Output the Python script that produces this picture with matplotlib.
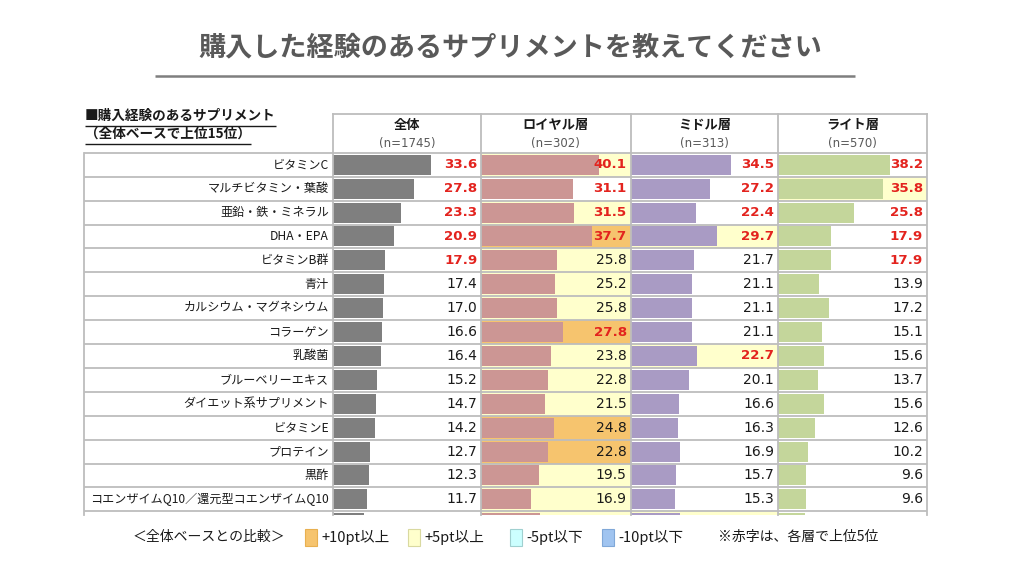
import numpy as np
import matplotlib
matplotlib.use("Agg")
import matplotlib.pyplot as plt
from matplotlib.patches import Rectangle

plt.rcParams['font.family'] = ['Noto Sans CJK JP', 'DejaVu Sans']

# ---------------- data ----------------
title = "購入した経験のあるサプリメントを教えてください"
subtitle1 = "■購入経験のあるサプリメント"
subtitle2 = "（全体ベースで上位15位）"
items = ["ビタミンC", "マルチビタミン・葉酸", "亜鉛・鉄・ミネラル", "DHA・EPA", "ビタミンB群",
         "青汁", "カルシウム・マグネシウム", "コラーゲン", "乳酸菌", "ブルーベリーエキス",
         "ダイエット系サプリメント", "ビタミンE", "プロテイン", "黒酢",
         "コエンザイムQ10／還元型コエンザイムQ10"]
segments = ["全体", "ロイヤル層", "ミドル層", "ライト層"]
sample_sizes = ["(n=1745)", "(n=302)", "(n=313)", "(n=570)"]
total = [33.6, 27.8, 23.3, 20.9, 17.9, 17.4, 17.0, 16.6, 16.4, 15.2, 14.7, 14.2, 12.7, 12.3, 11.7]
royal = [40.1, 31.1, 31.5, 37.7, 25.8, 25.2, 25.8, 27.8, 23.8, 22.8, 21.5, 24.8, 22.8, 19.5, 16.9]
middle = [34.5, 27.2, 22.4, 29.7, 21.7, 21.1, 21.1, 21.1, 22.7, 20.1, 16.6, 16.3, 16.9, 15.7, 15.3]
light = [38.2, 35.8, 25.8, 17.9, 17.9, 13.9, 17.2, 15.1, 15.6, 13.7, 15.6, 12.6, 10.2, 9.6, 9.6]
# 16th row, only a sliver visible at the clipped bottom edge (estimated)
next_row = [10.6, 19.8, 17.0, 9.3]
legend_labels = ["+10pt以上", "+5pt以上", "-5pt以下", "-10pt以下"]
legend_title = "＜全体ベースとの比較＞"
legend_note = "※赤字は、各層で上位5位"

# ---------------- style ----------------
bar_colors = ["#7F7F7F", "#CC9694", "#A99BC4", "#C4D69B"]
diff_colors = ["#F6C46E", "#FFFFCC", "#CCFFFF", "#A0C4F0"]
red = "#E3231E"
grid = "#BDBDBD"

W, H = 1024, 566
fig = plt.figure(figsize=(W / 100, H / 100), dpi=100)
fig.patch.set_facecolor("white")

top = 152.8
rh = 23.9
bottom = 515.0
header_top = 114.0
col_edges = [333.0, 481.0, 630.5, 778.0, 927.0]
label_left = 84.0
XMAX = 50.6
n = len(items)
ybot_units = (bottom - top) / rh

series = [total, royal, middle, light]

for s, vals in enumerate(series):
    x0, x1 = col_edges[s], col_edges[s + 1]
    ax = fig.add_axes([x0 / W, 1 - bottom / H, (x1 - x0) / W, (bottom - top) / H])
    ax.set_xlim(0, XMAX)
    ax.set_ylim(ybot_units, 0)
    ax.axis("off")
    allv = list(vals) + [next_row[s]]
    allt = list(total) + [next_row[0]]
    # background by difference vs 全体
    if s > 0:
        for i, (v, t) in enumerate(zip(allv, allt)):
            d = v - t
            c = None
            if d >= 10:
                c = diff_colors[0]
            elif d >= 5:
                c = diff_colors[1]
            elif d <= -10:
                c = diff_colors[3]
            elif d <= -5:
                c = diff_colors[2]
            if c:
                ax.add_patch(Rectangle((0, i), XMAX, 1, facecolor=c, lw=0, zorder=0))
    ax.barh(np.arange(len(allv)) + 0.5, allv, height=0.84, color=bar_colors[s], zorder=1)
    thr = sorted(vals, reverse=True)[4]
    for i, v in enumerate(vals):
        is_red = v >= thr
        ax.text(XMAX - 1.3, i + 0.5, f"{v:.1f}", ha="right", va="center",
                fontsize=10 if not is_red else 9.6,
                fontweight="bold" if is_red else "normal",
                color=red if is_red else "#1A1A1A", family="DejaVu Sans", zorder=3)

# decoration axes in pixel coordinates
deco = fig.add_axes([0, 0, 1, 1], zorder=5)
deco.set_xlim(0, W)
deco.set_ylim(H, 0)
deco.axis("off")
deco.patch.set_alpha(0)

# title
deco.text(510, 47, title, ha="center", va="center", fontsize=19.5, fontweight="bold", color="#595959")
deco.plot([155, 855], [76, 76], color="#7F7F7F", lw=1.8, solid_capstyle="butt")

# subtitle with underline
t1 = deco.text(85, 116, subtitle1, ha="left", va="center", fontsize=9.8, fontweight="bold", color="#1A1A1A")
t2 = deco.text(85, 134, subtitle2, ha="left", va="center", fontsize=9.8, fontweight="bold", color="#1A1A1A")

# table lines
for k in range(n + 1):
    y = top + k * rh
    deco.plot([label_left, col_edges[-1]], [y, y], color=grid, lw=1.3, solid_capstyle="butt")
deco.plot([col_edges[0], col_edges[-1]], [header_top, header_top], color=grid, lw=1.3)
deco.plot([label_left, label_left], [top, bottom], color=grid, lw=1.3)
for x in col_edges:
    deco.plot([x, x], [header_top, bottom], color=grid, lw=1.3)

# headers
for s in range(4):
    xc = (col_edges[s] + col_edges[s + 1]) / 2
    deco.text(xc, 125, segments[s], ha="center", va="center", fontsize=9.5, fontweight="bold", color="#1A1A1A")
    deco.text(xc, 143.5, sample_sizes[s], ha="center", va="center", fontsize=8.5,
              color="#595959", family=["DejaVu Sans"])

# item labels
for i, lab in enumerate(items):
    deco.text(329, top + (i + 0.5) * rh, lab, ha="right", va="center", fontsize=8.7, color="#1A1A1A")

# legend
ly = 537
deco.text(133, ly, legend_title, ha="left", va="center", fontsize=10, color="#1A1A1A")
lx = [305, 408, 510, 602]
edge = ["#E8B050", "#D9D9A0", "#A0D0D0", "#80A8D8"]
for j in range(4):
    deco.add_patch(Rectangle((lx[j], ly - 8.5), 12, 17, facecolor=diff_colors[j], edgecolor=edge[j], lw=0.8))
    deco.text(lx[j] + 16, ly, legend_labels[j], ha="left", va="center", fontsize=10.5, color="#1A1A1A")
deco.text(718, ly, legend_note, ha="left", va="center", fontsize=10, color="#1A1A1A")

# underline subtitles using rendered extents
fig.canvas.draw()
r = fig.canvas.get_renderer()
inv = deco.transData.inverted()
for t, uy in [(t1, 125.5), (t2, 143.5)]:
    bb = t.get_window_extent(renderer=r)
    (xa, _), (xb, _) = inv.transform([(bb.x0, bb.y0), (bb.x1, bb.y1)])
    deco.plot([xa, xb], [uy, uy], color="#1A1A1A", lw=1.0, solid_capstyle="butt")

fig.savefig("out.png", dpi=100, facecolor="white")
